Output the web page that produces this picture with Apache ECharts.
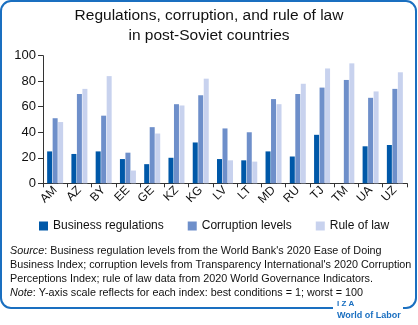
<!DOCTYPE html>
<html><head><meta charset="utf-8">
<script src="https://cdn.jsdelivr.net/npm/echarts@6/dist/echarts.min.js"></script>
<style>html,body{margin:0;padding:0;background:#fff}#c{width:418px;height:325px}</style>
</head><body><div id="c"></div>
<script>
var categories = ['AM','AZ','BY','EE','GE','KZ','KG','LV','LT','MD','RU','TJ','TM','UA','UZ'];
var businessRegulations = [25,23,25,19,15,20,32,19,18,25,21,38,0,29,30];
var corruptionLevels = [51,70,53,24,44,62,69,43,40,66,70,75,81,67,74];
var ruleOfLaw = [48,74,84,10,39,61,82,18,17,62,78,90,94,72,87];
var yTicks = [0,20,40,60,80,100];
var seriesNames = ['Business regulations','Corruption levels','Rule of law'];
var colors = ['#0058a8','#6e8fca','#c8d2ee'];
var FONT = '"Liberation Sans", Arial, sans-serif';

var chart = echarts.init(document.getElementById('c'), null, {renderer:'canvas'});
function bar(name, data, color){
  return {name:name, type:'bar', data:data, barWidth:5, barGap:'10%', itemStyle:{color:color}};
}
chart.setOption({
  animation:false,
  textStyle:{fontFamily:FONT},
  color:colors,
  grid:{left:43, right:11, top:55.7, bottom:141.7, containLabel:false},
  xAxis:{type:'category', data:categories,
    axisLine:{lineStyle:{color:'#333',width:1}},
    axisTick:{show:true, alignWithLabel:false, length:4, lineStyle:{color:'#333'}},
    axisLabel:{rotate:45, color:'#111', fontSize:12, margin:5, interval:0, fontFamily:FONT}},
  yAxis:{type:'value', min:0, max:100, interval:20,
    splitLine:{show:false},
    axisLine:{show:true, lineStyle:{color:'#333'}},
    axisTick:{show:true, length:5, lineStyle:{color:'#333'}},
    axisLabel:{color:'#111', fontSize:13, margin:7, fontFamily:FONT,
      formatter:function(v){ return yTicks.indexOf(v)>=0 ? String(v) : ''; }}},
  legend:{data:seriesNames, left:34, top:215, itemWidth:9, itemHeight:9, itemGap:24, icon:'rect',
    textStyle:{fontSize:12, color:'#111', fontFamily:FONT}},
  series:[bar(seriesNames[0], businessRegulations, colors[0]),
          bar(seriesNames[1], corruptionLevels, colors[1]),
          bar(seriesNames[2], ruleOfLaw, colors[2])],
  graphic:[
    {type:'rect', z:-1, shape:{x:1, y:1, width:415, height:307, r:10}, style:{fill:'none', stroke:'#1a6fc0', lineWidth:2}},
    {type:'rect', z:5, shape:{x:333, y:300, width:70, height:18}, style:{fill:'#fff'}},
    {type:'text', z:6, left:337, top:300, style:{text:'I Z A', fill:'#1a6fc0', font:'bold 8px '+FONT}},
    {type:'text', z:6, left:337, top:311, style:{text:'World of Labor', fill:'#1a6fc0', font:'bold 9px '+FONT}},
    {type:'text', left:'center', top:8, style:{text:'Regulations, corruption, and rule of law', fill:'#111', font:'15.5px '+FONT}},
    {type:'text', left:'center', top:28, style:{text:'in post-Soviet countries', fill:'#111', font:'15.5px '+FONT}},
    {type:'text', left:10, top:244, style:{
      text:'{i|Source}: Business regulation levels from the World Bank\'s 2020 Ease of Doing\nBusiness Index; corruption levels from Transparency International\'s 2020 Corruption\nPerceptions Index; rule of law data from 2020 World Governance Indicators.\n{i|Note}: Y-axis scale reflects for each index: best conditions = 1; worst = 100',
      fill:'#111', font:'10.8px '+FONT, lineHeight:14,
      rich:{i:{fontStyle:'italic', fontSize:10.8, fontFamily:FONT, fill:'#111'}}}}
  ]
});
</script></body></html>
